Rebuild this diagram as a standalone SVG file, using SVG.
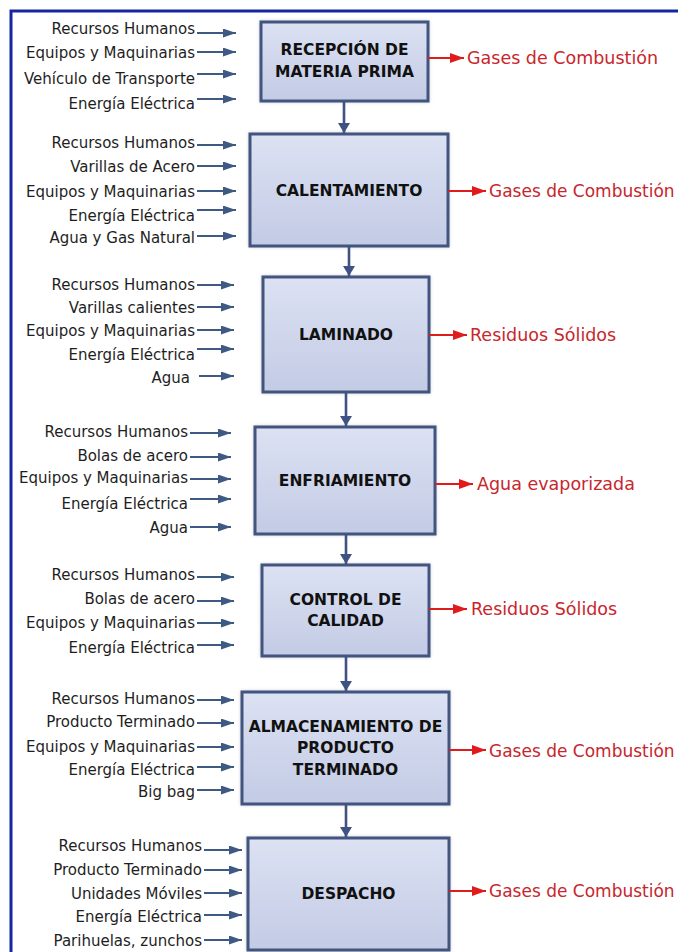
<svg xmlns="http://www.w3.org/2000/svg" width="678" height="952" viewBox="0 0 678 952">
  <style>
    .in { font-family: "DejaVu Sans", Verdana, sans-serif; font-size: 15px; fill: #1e1e1e; text-anchor: end; }
    .out { font-family: "DejaVu Sans", Verdana, sans-serif; font-size: 17.5px; fill: #c8262c; }
    .out.edge { font-size: 17px; }
    .title { font-family: "DejaVu Sans", Verdana, sans-serif; font-size: 15.5px; font-weight: bold; fill: #111; text-anchor: middle; }
    .box { fill: url(#boxFill); stroke: #43557f; stroke-width: 3; filter: url(#shadow); }
    .inl { stroke: #3f5a82; stroke-width: 1.8; fill: none; marker-end: url(#inHead); }
    .outl { stroke: #e01b1b; stroke-width: 2; fill: none; marker-end: url(#outHead); }
    .flow { stroke: #3e5283; stroke-width: 2.6; fill: none; marker-end: url(#flowHead); }
  </style>
  <defs>
    <linearGradient id="boxFill" x1="0" y1="0" x2="0" y2="1">
      <stop offset="0" stop-color="#dce2f3"/>
      <stop offset="1" stop-color="#c3cbe5"/>
    </linearGradient>
    <filter id="shadow" x="-10%" y="-10%" width="120%" height="120%">
      <feDropShadow dx="0" dy="0" stdDeviation="1.8" flood-color="#6a7390" flood-opacity="0.35"/>
    </filter>
    <marker id="inHead" markerUnits="userSpaceOnUse" markerWidth="14" markerHeight="10" refX="13" refY="4.5" orient="auto">
      <path d="M0,0 L13,4.5 L0,9 Z" fill="#3f5a82"/>
    </marker>
    <marker id="outHead" markerUnits="userSpaceOnUse" markerWidth="16" markerHeight="12" refX="14" refY="5" orient="auto">
      <path d="M0,0 L14,5 L0,10 Z" fill="#e01b1b"/>
    </marker>
    <marker id="flowHead" markerUnits="userSpaceOnUse" markerWidth="14" markerHeight="14" refX="10" refY="6" orient="auto">
      <path d="M0,0 L10,6 L0,12 Z" fill="#3e5283"/>
    </marker>
  </defs>

  <rect width="678" height="952" fill="#ffffff"/>
  <!-- page frame -->
  <rect x="11" y="11" width="720" height="990" fill="none" stroke="#1626a0" stroke-width="3"/>

  <!-- process steps -->
  <g id="recepcion">
    <rect class="box" x="261" y="22" width="167" height="79"/>
    <text class="title" x="344.5" y="55">RECEPCIÓN DE</text>
    <text class="title" x="344.5" y="77">MATERIA PRIMA</text>
  </g>
  <g id="calentamiento">
    <rect class="box" x="250" y="134" width="198" height="112"/>
    <text class="title" x="349" y="196">CALENTAMIENTO</text>
  </g>
  <g id="laminado">
    <rect class="box" x="263" y="277" width="166" height="115"/>
    <text class="title" x="346" y="340">LAMINADO</text>
  </g>
  <g id="enfriamiento">
    <rect class="box" x="255" y="427" width="180" height="107"/>
    <text class="title" x="345" y="486">ENFRIAMIENTO</text>
  </g>
  <g id="control">
    <rect class="box" x="262" y="565" width="167" height="91"/>
    <text class="title" x="345.5" y="605">CONTROL DE</text>
    <text class="title" x="345.5" y="626">CALIDAD</text>
  </g>
  <g id="almacenamiento">
    <rect class="box" x="242" y="692" width="207" height="112"/>
    <text class="title" x="345.5" y="732">ALMACENAMIENTO DE</text>
    <text class="title" x="345.5" y="753">PRODUCTO</text>
    <text class="title" x="345.5" y="775">TERMINADO</text>
  </g>
  <g id="despacho">
    <rect class="box" x="248" y="838" width="201" height="112"/>
    <text class="title" x="348.5" y="899">DESPACHO</text>
  </g>

  <!-- inputs -->
  <g id="inputs-recepcion">
    <text class="in" x="195" y="34">Recursos Humanos</text>
    <text class="in" x="195" y="58">Equipos y Maquinarias</text>
    <text class="in" x="195" y="84">Vehículo de Transporte</text>
    <text class="in" x="195" y="109">Energía Eléctrica</text>
  </g>
  <g id="inputs-calentamiento">
    <text class="in" x="195" y="148">Recursos Humanos</text>
    <text class="in" x="195" y="172">Varillas de Acero</text>
    <text class="in" x="195" y="197">Equipos y Maquinarias</text>
    <text class="in" x="195" y="221">Energía Eléctrica</text>
    <text class="in" x="195" y="243">Agua y Gas Natural</text>
  </g>
  <g id="inputs-laminado">
    <text class="in" x="195" y="290">Recursos Humanos</text>
    <text class="in" x="195" y="313">Varillas calientes</text>
    <text class="in" x="195" y="336">Equipos y Maquinarias</text>
    <text class="in" x="195" y="360">Energía Eléctrica</text>
    <text class="in" x="190" y="383">Agua</text>
  </g>
  <g id="inputs-enfriamiento">
    <text class="in" x="188" y="437">Recursos Humanos</text>
    <text class="in" x="188" y="461">Bolas de acero</text>
    <text class="in" x="188" y="483">Equipos y Maquinarias</text>
    <text class="in" x="188" y="509">Energía Eléctrica</text>
    <text class="in" x="188" y="533">Agua</text>
  </g>
  <g id="inputs-control">
    <text class="in" x="195" y="580">Recursos Humanos</text>
    <text class="in" x="195" y="604">Bolas de acero</text>
    <text class="in" x="195" y="628">Equipos y Maquinarias</text>
    <text class="in" x="195" y="653">Energía Eléctrica</text>
  </g>
  <g id="inputs-almacenamiento">
    <text class="in" x="195" y="704">Recursos Humanos</text>
    <text class="in" x="195" y="727">Producto Terminado</text>
    <text class="in" x="195" y="752">Equipos y Maquinarias</text>
    <text class="in" x="195" y="775">Energía Eléctrica</text>
    <text class="in" x="195" y="797">Big bag</text>
  </g>
  <g id="inputs-despacho">
    <text class="in" x="202" y="851">Recursos Humanos</text>
    <text class="in" x="202" y="875">Producto Terminado</text>
    <text class="in" x="202" y="899">Unidades Móviles</text>
    <text class="in" x="202" y="922">Energía Eléctrica</text>
    <text class="in" x="202" y="946">Parihuelas, zunchos</text>
  </g>

  <!-- outputs -->
  <g id="outputs">
    <text class="out" x="467" y="64">Gases de Combustión</text>
    <text class="out edge" x="489" y="197">Gases de Combustión</text>
    <text class="out" x="470" y="341">Residuos Sólidos</text>
    <text class="out" x="477" y="490">Agua evaporizada</text>
    <text class="out" x="471" y="615">Residuos Sólidos</text>
    <text class="out edge" x="489" y="757">Gases de Combustión</text>
    <text class="out edge" x="489" y="897">Gases de Combustión</text>
  </g>

  <!-- connectors -->
  <g id="connectors">
    <path class="flow" d="M344,101 V133"/>
    <path class="flow" d="M349,246 V276"/>
    <path class="flow" d="M346,392 V426"/>
    <path class="flow" d="M346,534 V564"/>
    <path class="flow" d="M346,656 V691"/>
    <path class="flow" d="M346,804 V837"/>

    <path class="outl" d="M428,58 H464"/>
    <path class="outl" d="M448,191 H486"/>
    <path class="outl" d="M429,335 H467"/>
    <path class="outl" d="M435,484 H473"/>
    <path class="outl" d="M429,609 H467"/>
    <path class="outl" d="M449,750 H486"/>
    <path class="outl" d="M449,891 H486"/>

    <path class="inl" d="M197,33 H236"/>
    <path class="inl" d="M197,52 H236"/>
    <path class="inl" d="M197,74 H236"/>
    <path class="inl" d="M197,99 H236"/>

    <path class="inl" d="M197,145 H236"/>
    <path class="inl" d="M197,166 H236"/>
    <path class="inl" d="M197,191 H236"/>
    <path class="inl" d="M197,210 H236"/>
    <path class="inl" d="M197,236 H236"/>

    <path class="inl" d="M197,285 H234"/>
    <path class="inl" d="M197,307 H234"/>
    <path class="inl" d="M197,330 H234"/>
    <path class="inl" d="M197,349 H234"/>
    <path class="inl" d="M199,376 H234"/>

    <path class="inl" d="M190,433 H231"/>
    <path class="inl" d="M190,457 H231"/>
    <path class="inl" d="M190,479 H231"/>
    <path class="inl" d="M190,499 H231"/>
    <path class="inl" d="M190,527 H231"/>

    <path class="inl" d="M197,577 H234"/>
    <path class="inl" d="M197,601 H234"/>
    <path class="inl" d="M197,623 H234"/>
    <path class="inl" d="M197,645 H234"/>

    <path class="inl" d="M197,700 H234"/>
    <path class="inl" d="M197,723 H234"/>
    <path class="inl" d="M197,747 H234"/>
    <path class="inl" d="M197,767 H234"/>
    <path class="inl" d="M197,790 H234"/>

    <path class="inl" d="M204,850 H242"/>
    <path class="inl" d="M204,870 H242"/>
    <path class="inl" d="M204,893 H242"/>
    <path class="inl" d="M204,915 H242"/>
    <path class="inl" d="M204,940 H242"/>
  </g>
</svg>
